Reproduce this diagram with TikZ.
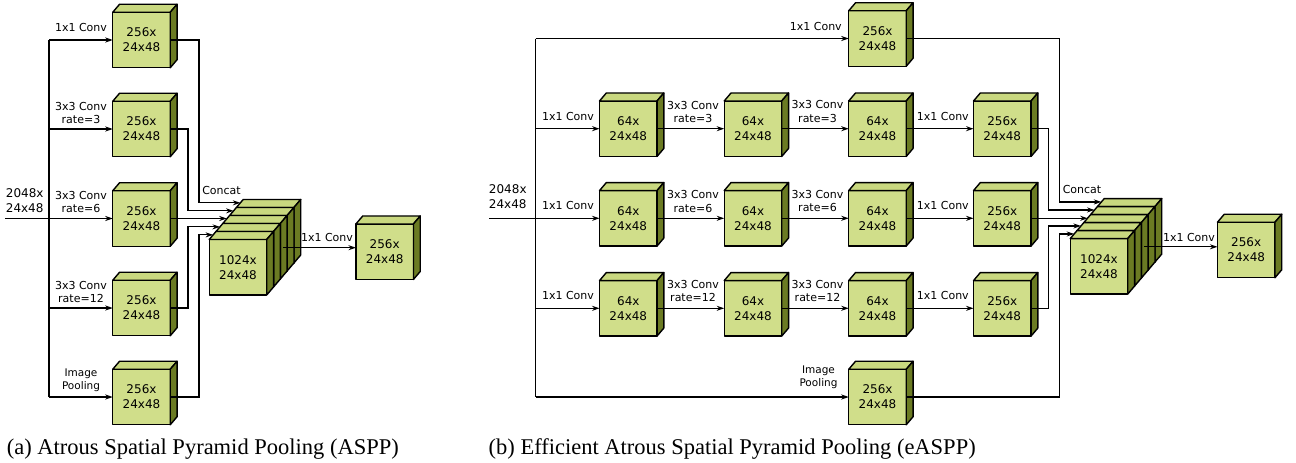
\documentclass[tikz,border=0pt]{standalone}
\usepackage{fontspec}
\setmainfont{Liberation Serif}
\newfontfamily\dvs{DejaVu Sans}
\usetikzlibrary{arrows.meta,calc}
\definecolor{cfront}{HTML}{D0DE8A}
\definecolor{ctop}{HTML}{C9D87F}
\definecolor{cside}{HTML}{6B7B23}
\newcommand{\cubedx}{6.8}
\newcommand{\cubedy}{8}
\newcommand{\cubew}{57.5}
\newcommand{\cubeh}{55.5}
\newcommand{\mkcube}[3]{%
  \node[cubefront] (#1) at (#2) {#3};
  \draw[cubeface,fill=ctop] (#1.north west) -- ++(\cubedx,-\cubedy) -- ++(\cubew,0) -- (#1.north east) -- cycle;
  \draw[cubeface,fill=cside] (#1.north east) -- ++(\cubedx,-\cubedy) -- ++(0,\cubeh) -- (#1.south east) -- cycle;
}
\tikzset{
  cubefront/.style={draw, line width=1.4pt, fill=cfront, minimum width=57.5pt, minimum height=55.5pt,
    inner sep=0pt, outer sep=0pt, align=center, font=\dvs\fontsize{12}{15}\selectfont, line join=round},
  cubeface/.style={draw, line width=1.4pt, line join=round},
  lbl/.style={align=center, inner sep=0pt, font=\dvs\fontsize{11}{13.3}\selectfont},
  lblsm/.style={align=center, inner sep=0pt, font=\dvs\fontsize{10.5}{13.3}\selectfont},
  lblbig/.style={align=center, inner sep=0pt, font=\dvs\fontsize{12}{15}\selectfont},
  conn/.style={line width=1.2pt},
  arr/.style={conn, -{Stealth[length=7.5pt,width=5pt,inset=2.4pt]}},
  captext/.style={anchor=base west, inner sep=0pt, font=\fontsize{22.5}{25}\selectfont},
}
\begin{document}
\begin{tikzpicture}[x=1pt,y=-1pt]
\useasboundingbox (0,0) rectangle (1296,463);
% ---------------- Panel (a) ----------------
\mkcube{aB1}{141.5,40}{256x\\24x48}
\mkcube{aB2}{141.5,129}{256x\\24x48}
\mkcube{aB3}{141.5,218.5}{256x\\24x48}
\mkcube{aB4}{141.5,308}{256x\\24x48}
\mkcube{aB5}{141.5,397}{256x\\24x48}
\mkcube{cA4}{265.2,235.2}{}
\mkcube{cA3}{258.4,243.2}{}
\mkcube{cA2}{251.6,251.2}{}
\mkcube{cA1}{244.8,259.2}{}
\mkcube{cA0}{238,267.2}{1024x\\24x48}
\mkcube{aOut}{384.7,251.7}{256x\\24x48}
\coordinate (aT) at (49,0);
\coordinate (aIn) at (5,218.5);
\coordinate (aR1) at (199,0);
\coordinate (aR2) at (188,0);
\foreach \k in {0,...,4}{\coordinate (aE\k) at ($(cA\k.north west)+(3.9,-4.6)$);}
\coordinate (aS) at ($(cA2.east)+(3,-3.5)$);
\draw[conn] (aT |- aB1.west) -- (aT |- aB5.west);
\draw[arr] (aIn |- aB3.west) -- (aB3.west);
\foreach \b in {aB1,aB2,aB4,aB5}{\draw[arr] (aT |- \b.west) -- (\b.west);}
\draw[arr] (aB1.east) -| (aR1 |- aE4) -- (aE4);
\draw[arr] (aB2.east) -| (aR2 |- aE3) -- (aE3);
\draw[arr] (aB3.east) -- (aB3.east -| aE2);
\draw[arr] (aB4.east) -| (aR2 |- aE1) -- (aE1);
\draw[arr] (aB5.east) -| (aR1 |- aE0) -- (aE0);
\draw[arr] (aS) -- (aS -| aOut.west);
\node[lbl] (aL1) at (81,27) {1x1 Conv};
\node[lbl] (aL2) at (81,112.7) {3x3 Conv\\rate=3};
\node[lbl] (aL3) at (81,202) {3x3 Conv\\rate=6};
\node[lbl] (aL4) at (81,292) {3x3 Conv\\rate=12};
\node[lblsm] (aL5) at (81,380) {Image\\Pooling};
\node[lblbig] (aLin) at (24.7,200.8) {2048x\\24x48};
\node[lbl] (aLc) at (221.5,190.3) {Concat};
\node[lbl] (aLo) at (327,237.7) {1x1 Conv};
\node[captext] (aCap) at (6.7,454.5) {(a) Atrous Spatial Pyramid Pooling (ASPP)};
% ---------------- Panel (b) ----------------
\mkcube{bTop}{877.5,38.5}{256x\\24x48}
\mkcube{r1a}{628.3,128.7}{64x\\24x48}
\mkcube{r1b}{753,128.7}{64x\\24x48}
\mkcube{r1c}{877.5,128.7}{64x\\24x48}
\mkcube{r1d}{1002.3,128.7}{256x\\24x48}
\mkcube{r2a}{628.3,218.3}{64x\\24x48}
\mkcube{r2b}{753,218.3}{64x\\24x48}
\mkcube{r2c}{877.5,218.3}{64x\\24x48}
\mkcube{r2d}{1002.3,218.3}{256x\\24x48}
\mkcube{r3a}{628.3,308.3}{64x\\24x48}
\mkcube{r3b}{753,308.3}{64x\\24x48}
\mkcube{r3c}{877.5,308.3}{64x\\24x48}
\mkcube{r3d}{1002.3,308.3}{256x\\24x48}
\mkcube{bBot}{877.5,397}{256x\\24x48}
\mkcube{cB4}{1126.2,234.3}{}
\mkcube{cB3}{1119.4,242.3}{}
\mkcube{cB2}{1112.6,250.3}{}
\mkcube{cB1}{1105.8,258.3}{}
\mkcube{cB0}{1099,266.3}{1024x\\24x48}
\mkcube{bOut}{1246.2,250}{256x\\24x48}
\coordinate (bT) at (535.7,0);
\coordinate (bIn) at (489,218.3);
\coordinate (bR1) at (1059.3,0);
\coordinate (bR2) at (1048.3,0);
\foreach \k in {0,...,4}{\coordinate (bE\k) at ($(cB\k.north west)+(3.9,-4.6)$);}
\coordinate (bS) at ($(cB2.east)+(3,-3.5)$);
\draw[conn] (bT |- bTop.west) -- (bT |- bBot.west);
\draw[arr] (bIn |- r2a.west) -- (r2a.west);
\foreach \b in {bTop,r1a,r3a,bBot}{\draw[arr] (bT |- \b.west) -- (\b.west);}
\foreach \r in {r1,r2,r3}{
  \draw[arr] (\r a.east) -- (\r b.west);
  \draw[arr] (\r b.east) -- (\r c.west);
  \draw[arr] (\r c.east) -- (\r d.west);
}
\draw[arr] (bTop.east) -| (bR1 |- bE4) -- (bE4);
\draw[arr] (r1d.east) -| (bR2 |- bE3) -- (bE3);
\draw[arr] (r2d.east) -- (r2d.east -| bE2);
\draw[arr] (r3d.east) -| (bR2 |- bE1) -- (bE1);
\draw[arr] (bBot.east) -| (bR1 |- bE0) -- (bE0);
\draw[arr] (bS) -- (bS -| bOut.west);
\node[lbl] (bL0) at (815.8,26) {1x1 Conv};
\node[lbl] (bL11) at (568,116) {1x1 Conv};
\node[lbl] (bL12) at (693,112) {3x3 Conv\\rate=3};
\node[lbl] (bL13) at (817.5,111.5) {3x3 Conv\\rate=3};
\node[lbl] (bL14) at (942.8,116) {1x1 Conv};
\node[lbl] (bL21) at (568,205.5) {1x1 Conv};
\node[lbl] (bL22) at (693,201.5) {3x3 Conv\\rate=6};
\node[lbl] (bL23) at (817.5,201) {3x3 Conv\\rate=6};
\node[lbl] (bL24) at (942.8,205.5) {1x1 Conv};
\node[lbl] (bL31) at (568,295) {1x1 Conv};
\node[lbl] (bL32) at (693,291.3) {3x3 Conv\\rate=12};
\node[lbl] (bL33) at (817.5,291.3) {3x3 Conv\\rate=12};
\node[lbl] (bL34) at (942.8,295) {1x1 Conv};
\node[lblsm] (bL5) at (818.5,377.3) {Image\\Pooling};
\node[lblbig] (bLin) at (507.8,196.3) {2048x\\24x48};
\node[lbl] (bLc) at (1082,189.3) {Concat};
\node[lbl] (bLo) at (1189,237.3) {1x1 Conv};
\node[captext] (bCap) at (488.5,454.5) {(b) Efficient Atrous Spatial Pyramid Pooling (eASPP)};
\end{tikzpicture}
\end{document}
